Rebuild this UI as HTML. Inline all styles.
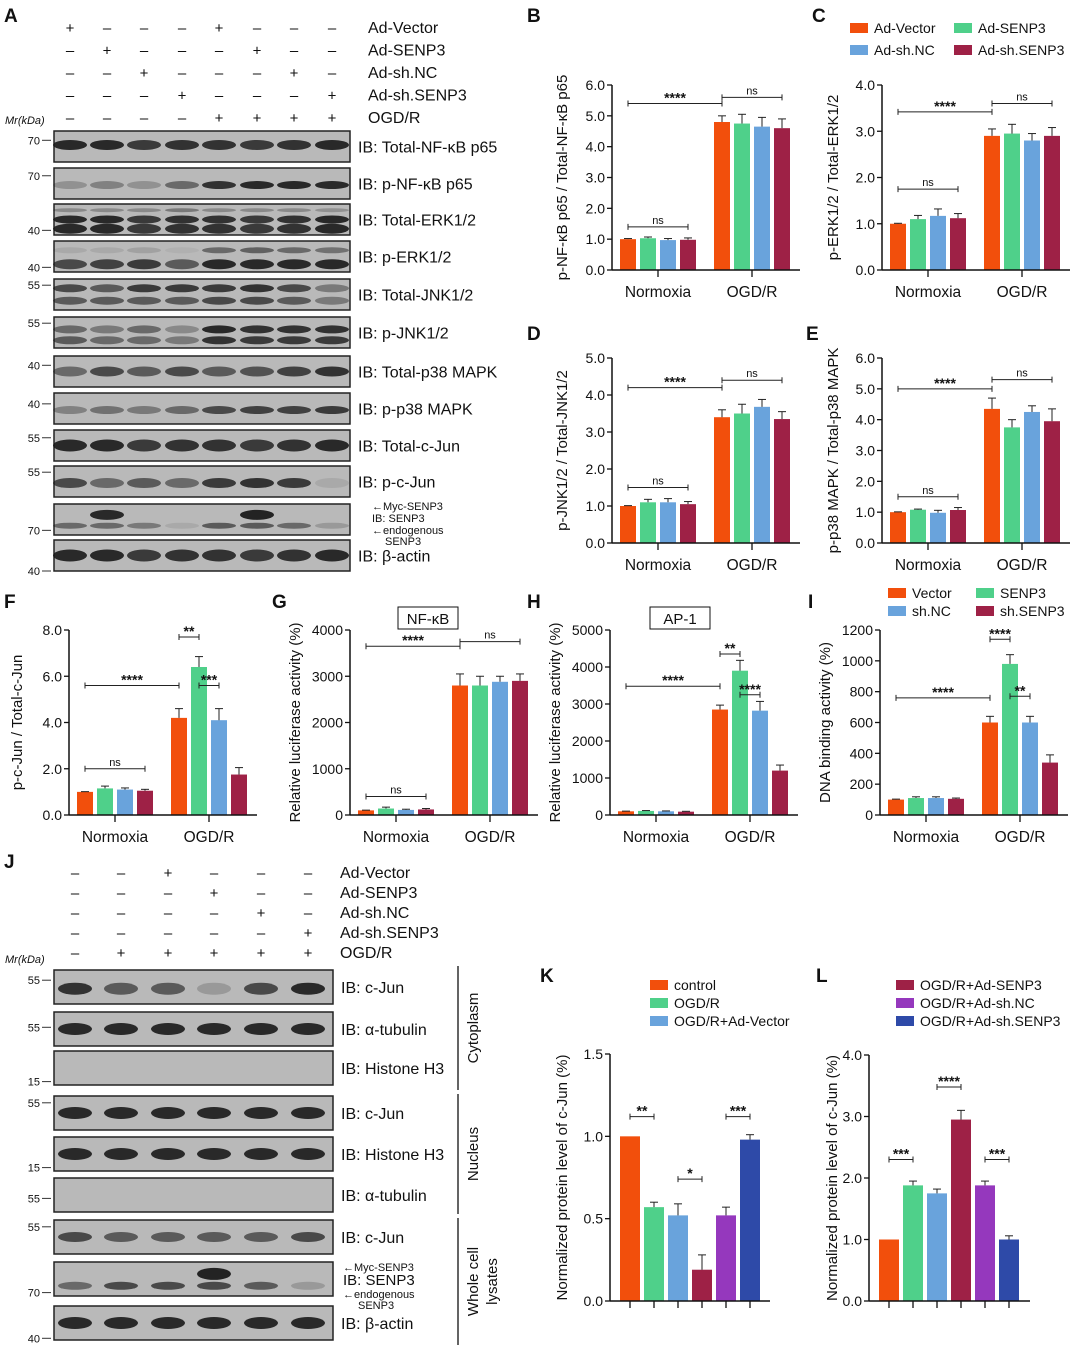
<!DOCTYPE html>
<html><head><meta charset="utf-8"><style>
body{margin:0;background:#fff;}
svg{display:block;font-family:"Liberation Sans",Arial,sans-serif;}
</style></head><body>
<svg id="fig" width="1080" height="1353" viewBox="0 0 1080 1353" xmlns="http://www.w3.org/2000/svg"></svg>
<script>
// ===== Data =====
const COLORS4 = ['#f24f0c','#4fd08a','#69a3dc','#9e2146'];
const COLORS6 = ['#f24f0c','#4fd08a','#69a3dc','#9e2146','#9538bd','#2e4aa8'];
const groupsNO = ['Normoxia','OGD/R'];

const bNorm=[1.0,1.03,0.97,0.98], bOgd=[4.8,4.75,4.65,4.6], bErrN=[0.02,0.04,0.05,0.06], bErrO=[0.2,0.3,0.3,0.3];
const cNorm=[1.0,1.1,1.17,1.12], cOgd=[2.9,2.95,2.8,2.9], cErrN=[0.01,0.08,0.15,0.1], cErrO=[0.15,0.2,0.15,0.18];
const dNorm=[1.0,1.1,1.1,1.05], dOgd=[3.4,3.5,3.68,3.35], dErrN=[0.01,0.08,0.1,0.07], dErrO=[0.2,0.25,0.2,0.2];
const eNorm=[1.0,1.08,0.98,1.07], eOgd=[4.35,3.75,4.25,3.95], eErrN=[0.01,0.02,0.08,0.08], eErrO=[0.35,0.25,0.2,0.4];
const fNorm=[1.0,1.15,1.1,1.05], fOgd=[4.2,6.4,4.1,1.75], fErrN=[0.01,0.1,0.07,0.06], fErrO=[0.4,0.45,0.5,0.3];
const gNorm=[100,140,110,120], gOgd=[2800,2800,2880,2900], gErrN=[5,30,15,20], gErrO=[250,200,120,150];
const hNorm=[100,110,100,90], hOgd=[2850,3900,2820,1200], hErrN=[5,10,10,10], hErrO=[120,280,250,150];
const iNorm=[100,110,110,105], iOgd=[600,980,600,340], iErrN=[3,8,8,5], iErrO=[40,60,40,50];
const kVals=[1.0,0.57,0.52,0.19,0.52,0.98], kErr=[0.0,0.03,0.07,0.09,0.05,0.03];
const lVals=[1.0,1.88,1.75,2.95,1.88,1.0], lErr=[0.0,0.07,0.07,0.15,0.07,0.06];

const yTicks6=[0,1,2,3,4,5,6], yTicks4=[0,1,2,3,4], yTicks5=[0,1,2,3,4,5], yTicks8=[0,2,4,6,8];
const yTicksG=[0,1000,2000,3000,4000], yTicksH=[0,1000,2000,3000,4000,5000], yTicksI=[0,200,400,600,800,1000,1200];
const yTicksK=[0,0.5,1.0,1.5];

const svg=document.getElementById('fig');
const NS='http://www.w3.org/2000/svg';
function el(tag,attrs,parent){const e=document.createElementNS(NS,tag);for(const k in attrs)e.setAttribute(k,attrs[k]);(parent||svg).appendChild(e);return e;}
function txt(x,y,s,size,anchor,parent,extra){const t=el('text',Object.assign({x:x,y:y,'font-size':size,'text-anchor':anchor||'start',fill:'#111'},extra||{}),parent);t.textContent=s;return t;}

// ===== Generic bar chart =====
function barChart(o){
  const g=el('g',{});
  
  
  const ymax=o.ticks[o.ticks.length-1];
  const Y=v=>o.y0-(v/ymax)*(o.y0-o.yTop);
  // bars
  o.values.forEach((v,i)=>{
    const cx=o.xs[i], y=Y(v);
    const r=el('rect',{x:cx-o.bw/2,y:y,width:o.bw,height:o.y0-y,fill:o.colors[i]},g);
    
    
    const e=o.errs[i];
    if(e>0){
      el('line',{x1:cx,x2:cx,y1:y,y2:Y(v+e),stroke:'#222','stroke-width':1},g);
      el('line',{x1:cx-4,x2:cx+4,y1:Y(v+e),y2:Y(v+e),stroke:'#222','stroke-width':1},g);
    }
  });
  // axes
  el('line',{x1:o.x0,x2:o.x0,y1:o.yTop,y2:o.y0,stroke:'#111','stroke-width':1.5},g);
  el('line',{x1:o.x0,x2:o.xEnd,y1:o.y0,y2:o.y0,stroke:'#111','stroke-width':1.5},g);
  o.ticks.forEach((t,i)=>{
    const y=Y(t);
    el('line',{x1:o.x0-5,x2:o.x0,y1:y,y2:y,stroke:'#111','stroke-width':1.3},g);
    txt(o.x0-7,y+5,o.tickLabels[i],14,'end',g);
  });
  o.xticks.forEach(x=>el('line',{x1:x,x2:x,y1:o.y0,y2:o.y0+7,stroke:'#111','stroke-width':1.3},g));
  (o.cats||[]).forEach((c,i)=>txt(o.catX[i],o.y0+27,c,15.5,'middle',g));
  const yl=txt(0,0,o.ylabel,15,'middle',g,{transform:`translate(${o.ylx},${(o.yTop+o.y0)/2}) rotate(-90)`});
  (o.sig||[]).forEach(s=>{
    const y=Y(s.v);
    el('line',{x1:s.x1,x2:s.x2,y1:y,y2:y,stroke:'#222','stroke-width':1},g);
    el('line',{x1:s.x1,x2:s.x1,y1:y-3,y2:y+3,stroke:'#222','stroke-width':1},g);
    el('line',{x1:s.x2,x2:s.x2,y1:y-3,y2:y+3,stroke:'#222','stroke-width':1},g);
    txt((s.x1+s.x2)/2,y-(s.t==='ns'?3:1),s.t,s.t==='ns'?11:14,'middle',g,{'font-weight':s.t==='ns'?'normal':'bold'});
  });
  return g;
}
function fmt(arr,d){return arr.map(v=>v.toFixed(d));}
function std4(name,x0,y0,yTop,norm,ogd,en,eo,ticks,labels,ylabel,ylx,sig,xEnd){
  const xs=[x0+16,x0+36,x0+56,x0+76,x0+110,x0+130,x0+150,x0+170];
  barChart({name:name,x0:x0,y0:y0,yTop:yTop,xEnd:xEnd||x0+188,values:norm.concat(ogd),errs:en.concat(eo),
    xs:xs,bw:16,colors:COLORS4.concat(COLORS4),ticks:ticks,tickLabels:labels,
    xticks:[x0+46,x0+140],cats:groupsNO,catX:[x0+46,x0+140],ylabel:ylabel,ylx:ylx,
    sig:sig.map(s=>({t:s.t,v:s.v,x1:xs[s.a],x2:xs[s.b]}))});
}

// ===== Panel letters =====
[['A',4,22],['B',527,22],['C',812,22],['D',527,340],['E',806,340],['F',4,608],['G',272,608],['H',527,608],['I',808,608],['J',4,868],['K',540,982],['L',816,982]]
.forEach(p=>{const t=txt(p[1],p[2],p[0],19,'start',null,{'font-weight':'bold'});});

// ===== Charts B-I =====
std4('chart-b',612,270,85,bNorm,bOgd,bErrN,bErrO,yTicks6,fmt(yTicks6,1),'p-NF-κB p65 / Total-NF-κB p65',567,
 [{t:'ns',v:1.4,a:0,b:3},{t:'****',v:5.4,a:0,b:4},{t:'ns',v:5.6,a:4,b:7}]);
std4('chart-c',882,270,85,cNorm,cOgd,cErrN,cErrO,yTicks4,fmt(yTicks4,1),'p-ERK1/2 / Total-ERK1/2',838,
 [{t:'ns',v:1.75,a:0,b:3},{t:'****',v:3.42,a:0,b:4},{t:'ns',v:3.6,a:4,b:7}]);
std4('chart-d',612,543,358,dNorm,dOgd,dErrN,dErrO,yTicks5,fmt(yTicks5,1),'p-JNK1/2 / Total-JNK1/2',567,
 [{t:'ns',v:1.5,a:0,b:3},{t:'****',v:4.2,a:0,b:4},{t:'ns',v:4.4,a:4,b:7}]);
std4('chart-e',882,543,358,eNorm,eOgd,eErrN,eErrO,yTicks6,fmt(yTicks6,1),'p-p38 MAPK / Total-p38 MAPK',838,
 [{t:'ns',v:1.5,a:0,b:3},{t:'****',v:5.0,a:0,b:4},{t:'ns',v:5.3,a:4,b:7}]);
std4('chart-f',69,815,630,fNorm,fOgd,fErrN,fErrO,yTicks8,fmt(yTicks8,1),'p-c-Jun / Total-c-Jun',22,
 [{t:'ns',v:2.0,a:0,b:3},{t:'****',v:5.6,a:0,b:4},{t:'**',v:7.7,a:4,b:5},{t:'***',v:5.6,a:5,b:6}]);
std4('chart-g',350,815,630,gNorm,gOgd,gErrN,gErrO,yTicksG,yTicksG.map(String),'Relative luciferase activity (%)',300,
 [{t:'ns',v:400,a:0,b:3},{t:'****',v:3650,a:0,b:4},{t:'ns',v:3750,a:4,b:7}]);
std4('chart-h',610,815,630,hNorm,hOgd,hErrN,hErrO,yTicksH,yTicksH.map(String),'Relative luciferase activity (%)',560,
 [{t:'****',v:3480,a:0,b:4},{t:'**',v:4350,a:4,b:5},{t:'****',v:3250,a:5,b:6}]);
std4('chart-i',880,815,630,iNorm,iOgd,iErrN,iErrO,yTicksI,yTicksI.map(String),'DNA binding activity (%)',830,
 [{t:'****',v:760,a:0,b:4},{t:'****',v:1140,a:4,b:5},{t:'**',v:770,a:5,b:6}]);

// ===== Charts K, L =====
const kxs=[630,654,678,702,726,750];
barChart({name:'chart-k',x0:610,y0:1301,yTop:1054,xEnd:770,values:kVals,errs:kErr,xs:kxs,bw:20,colors:COLORS6,
 ticks:yTicksK,tickLabels:fmt(yTicksK,1),xticks:kxs,ylabel:'Normalized protein level of c-Jun (%)',ylx:567,
 sig:[{t:'**',v:1.12,x1:630,x2:654},{t:'*',v:0.74,x1:678,x2:702},{t:'***',v:1.12,x1:726,x2:750}]});
const lxs=[889,913,937,961,985,1009];
barChart({name:'chart-l',x0:869,y0:1301,yTop:1055,xEnd:1030,values:lVals,errs:lErr,xs:lxs,bw:20,colors:COLORS6,
 ticks:yTicks4,tickLabels:fmt(yTicks4,1),xticks:lxs,ylabel:'Normalized protein level of c-Jun (%)',ylx:837,
 sig:[{t:'***',v:2.3,x1:889,x2:913},{t:'****',v:3.48,x1:937,x2:961},{t:'***',v:2.3,x1:985,x2:1009}]});

// ===== Legends =====
function legend(name,items,x,y,dx,dy,cols,size){
  const g=el('g',{});
  
  
  items.forEach((it,i)=>{
    const cx=x+(i%cols)*dx, cy=y+Math.floor(i/cols)*dy;
    el('rect',{x:cx,y:cy-9,width:18,height:10,fill:it[1]},g);
    txt(cx+24,cy+1,it[0],size||14,'start',g);
  });
}
legend('legend-c',[['Ad-Vector',COLORS4[0]],['Ad-SENP3',COLORS4[1]],['Ad-sh.NC',COLORS4[2]],['Ad-sh.SENP3',COLORS4[3]]],850,32,104,22,2);
legend('legend-i',[['Vector',COLORS4[0]],['SENP3',COLORS4[1]],['sh.NC',COLORS4[2]],['sh.SENP3',COLORS4[3]]],888,597,88,18,2);
legend('legend-k',[['control',COLORS6[0]],['OGD/R',COLORS6[1]],['OGD/R+Ad-Vector',COLORS6[2]]],650,989,0,18,1);
legend('legend-l',[['OGD/R+Ad-SENP3',COLORS6[3]],['OGD/R+Ad-sh.NC',COLORS6[4]],['OGD/R+Ad-sh.SENP3',COLORS6[5]]],896,989,0,18,1);

// boxed titles G/H
[['NF-κB',398,607,60],['AP-1',650,607,60]].forEach(b=>{
  el('rect',{x:b[1],y:b[2],width:b[3],height:22,fill:'none',stroke:'#111','stroke-width':1});
  txt(b[1]+b[3]/2,b[2]+17,b[0],15,'middle');
});

// ===== Blots =====
function signs(rows,lanes,y0,dy,labelX,size){
  rows.forEach((r,ri)=>{
    r[1].forEach((s,li)=>txt(lanes[li],y0+ri*dy,s?'+':'–',size,'middle'));
    txt(labelX,y0+ri*dy,r[0],size+1,'start');
  });
}
function blot(name,x,y,w,h,lanes,bands,label,mw,labelSize){
  const g=el('g',{});
  
  
  el('rect',{x:x,y:y,width:w,height:h,fill:'#b9b9b9',stroke:'#222','stroke-width':1.5},g);
  bands.forEach(b=>{
    b.i.forEach((v,li)=>{
      if(v<=0)return;
      el('ellipse',{cx:lanes[li],cy:y+h*b.y,rx:17,ry:b.r,fill:'#1a1a1a','fill-opacity':v},g);
    });
  });
  if(label)txt(x+w+8,y+h/2+6,label,labelSize||16,'start',g);
  if(mw)(mw).forEach(m=>{txt(x-14,y+h*m[1]+4,m[0],11,'end',g);el('line',{x1:x-12,x2:x-3,y1:y+h*m[1],y2:y+h*m[1],stroke:'#333'},g);});
}
const laneA=[70,107,144,182,219,257,294,332];
signs([['Ad-Vector',[1,0,0,0,1,0,0,0]],['Ad-SENP3',[0,1,0,0,0,1,0,0]],['Ad-sh.NC',[0,0,1,0,0,0,1,0]],['Ad-sh.SENP3',[0,0,0,1,0,0,0,1]],['OGD/R',[0,0,0,0,1,1,1,1]]],laneA,33,22.5,368,15);
txt(5,124,'Mr(kDa)',11,'start',null,{'font-style':'italic'});
const full=[0.9,0.9,0.8,0.85,0.85,0.8,0.85,0.9];
const A=[
 ['Total-NF-κB p65',131,[{y:0.45,r:5,i:full}],[['70',0.3]]],
 ['p-NF-κB p65',168,[{y:0.55,r:4,i:[0.25,0.35,0.25,0.5,0.85,0.9,0.9,0.9]}],[['70',0.25]]],
 ['Total-ERK1/2',204,[{y:0.2,r:2,i:[0.3,0.3,0.3,0.4,0.3,0.3,0.3,0.25]},{y:0.5,r:4,i:full},{y:0.8,r:5,i:full}],[['40',0.85]]],
 ['p-ERK1/2',241,[{y:0.3,r:3,i:[0.1,0.1,0.15,0.05,0.5,0.55,0.5,0.45]},{y:0.75,r:5,i:[0.7,0.75,0.8,0.6,0.9,0.9,0.9,0.9]}],[['40',0.85]]],
 ['Total-JNK1/2',279,[{y:0.3,r:4,i:[0.7,0.6,0.8,0.8,0.8,0.85,0.7,0.4]},{y:0.7,r:4,i:[0.6,0.6,0.6,0.6,0.7,0.7,0.6,0.4]}],[['55',0.2]]],
 ['p-JNK1/2',317,[{y:0.4,r:4,i:[0.5,0.4,0.5,0.3,0.9,0.85,0.85,0.85]},{y:0.75,r:4,i:[0.6,0.5,0.5,0.4,0.85,0.8,0.8,0.8]}],[['55',0.2]]],
 ['Total-p38 MAPK',356,[{y:0.5,r:5,i:[0.5,0.7,0.6,0.7,0.6,0.65,0.75,0.85]}],[['40',0.3]]],
 ['p-p38 MAPK',393,[{y:0.55,r:4,i:[0.35,0.45,0.4,0.5,0.7,0.75,0.75,0.8]}],[['40',0.35]]],
 ['Total-c-Jun',430,[{y:0.5,r:6,i:full}],[['55',0.25]]],
 ['p-c-Jun',466,[{y:0.55,r:5,i:[0.7,0.5,0.6,0.5,0.8,0.85,0.8,0.1]}],[['55',0.2]]],
 [null,504,[{y:0.35,r:5,i:[0,0.9,0,0,0,0.95,0,0]},{y:0.7,r:3,i:[0.5,0.5,0.4,0.1,0.6,0.6,0.5,0.2]}],[['70',0.85]]],
 ['β-actin',540,[{y:0.5,r:6,i:full}],[['40',1.0]]]
];
A.forEach((b,i)=>blot('blot-a-'+i,54,b[1],296,31,laneA,b[2],b[0]?'IB: '+b[0]:null,b[3]));
txt(372,510,'←Myc-SENP3',11,'start');txt(372,522,'IB: SENP3',11,'start');txt(372,534,'←endogenous',11,'start');txt(385,545,'SENP3',11,'start');

const laneJ=[75,121,168,214,261,308];
signs([['Ad-Vector',[0,0,1,0,0,0]],['Ad-SENP3',[0,0,0,1,0,0]],['Ad-sh.NC',[0,0,0,0,1,0]],['Ad-sh.SENP3',[0,0,0,0,0,1]],['OGD/R',[0,1,1,1,1,1]]],laneJ,878,20,340,15);
txt(5,963,'Mr(kDa)',11,'start',null,{'font-style':'italic'});
const f6=[0.9,0.9,0.9,0.9,0.9,0.9];
const J=[
 ['c-Jun',970,[{y:0.55,r:6,i:[0.85,0.6,0.6,0.2,0.7,0.9]}],[['55',0.3]]],
 ['α-tubulin',1012,[{y:0.5,r:6,i:f6}],[['55',0.45]]],
 ['Histone H3',1051,[],[['15',0.9]]],
 ['c-Jun',1096,[{y:0.5,r:6,i:f6}],[['55',0.2]]],
 ['Histone H3',1137,[{y:0.5,r:6,i:f6}],[['15',0.9]]],
 ['α-tubulin',1178,[],[['55',0.6]]],
 ['c-Jun',1220,[{y:0.5,r:5,i:[0.7,0.6,0.6,0.6,0.6,0.7]}],[['55',0.2]]],
 [null,1262,[{y:0.35,r:6,i:[0,0,0,0.95,0,0]},{y:0.7,r:4,i:[0.5,0.7,0.7,0.7,0.6,0.2]}],[['70',0.9]]],
 ['β-actin',1306,[{y:0.5,r:6,i:f6}],[['40',0.95]]]
];
J.forEach((b,i)=>blot('blot-j-'+i,54,b[1],279,34,laneJ,b[2],b[0]?'IB: '+b[0]:null,b[3]));
txt(343,1271,'←Myc-SENP3',11,'start');txt(343,1285,'IB: SENP3',15,'start');txt(343,1298,'←endogenous',11,'start');txt(358,1309,'SENP3',11,'start');
// brackets
[[966,1090,'Cytoplasm'],[1094,1214,'Nucleus'],[1218,1345,'Whole cell lysates']].forEach(b=>{
  el('line',{x1:458,x2:458,y1:b[0],y2:b[1],stroke:'#111','stroke-width':1.3});
  if(b[2]==='Whole cell lysates'){
    txt(0,0,'Whole cell',15,'middle',null,{transform:`translate(478,${(b[0]+b[1])/2}) rotate(-90)`});
    txt(0,0,'lysates',15,'middle',null,{transform:`translate(497,${(b[0]+b[1])/2}) rotate(-90)`});
  } else txt(0,0,b[2],15,'middle',null,{transform:`translate(478,${(b[0]+b[1])/2}) rotate(-90)`});
});
</script>
</body></html>
